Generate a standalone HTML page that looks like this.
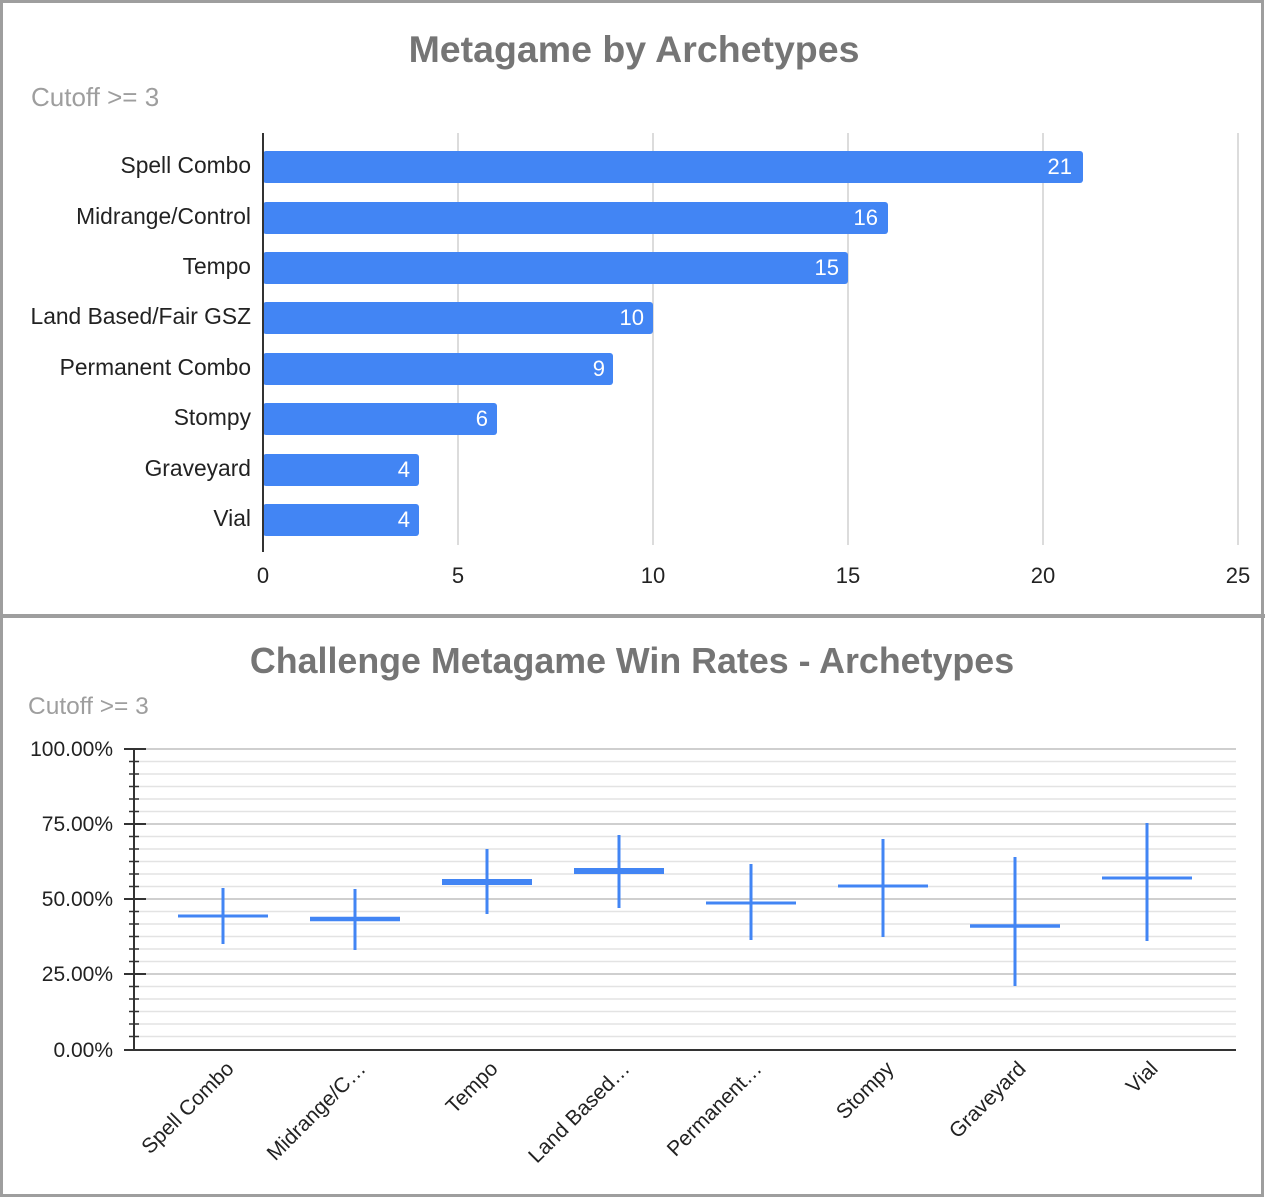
<!DOCTYPE html>
<html><head><meta charset="utf-8"><style>
html,body{margin:0;padding:0;background:#fff}
svg{display:block;font-family:"Liberation Sans",Arial,sans-serif}
</style></head><body>
<svg width="1265" height="1197" viewBox="0 0 1265 1197" xmlns="http://www.w3.org/2000/svg">
<rect x="0" y="0" width="1265" height="1197" fill="#fff"/>
<rect x="1.5" y="1.5" width="1261" height="1194" fill="none" stroke="#9e9e9e" stroke-width="3"/>
<rect x="0" y="614" width="1265" height="4" fill="#9e9e9e"/>

<text x="634" y="62" text-anchor="middle" font-size="37.5" font-weight="bold" fill="#757575">Metagame by Archetypes</text>
<text x="31" y="106" font-size="26" fill="#9e9e9e">Cutoff &gt;= 3</text>
<g stroke="#d0d0d0" stroke-width="1.5">
<line x1="458" y1="133" x2="458" y2="545"/>
<line x1="653" y1="133" x2="653" y2="545"/>
<line x1="848" y1="133" x2="848" y2="545"/>
<line x1="1043" y1="133" x2="1043" y2="545"/>
<line x1="1238" y1="133" x2="1238" y2="545"/>
</g>
<g fill="#4285f4">
<rect x="263" y="151" width="820" height="32" rx="3"/>
<rect x="263" y="202" width="625" height="32" rx="3"/>
<rect x="263" y="252" width="585" height="32" rx="3"/>
<rect x="263" y="302" width="390" height="32" rx="3"/>
<rect x="263" y="353" width="350" height="32" rx="3"/>
<rect x="263" y="403" width="234" height="32" rx="3"/>
<rect x="263" y="454" width="156" height="32" rx="3"/>
<rect x="263" y="504" width="156" height="32" rx="3"/>
</g>
<line x1="263" y1="133" x2="263" y2="552" stroke="#333" stroke-width="2"/>
<g font-size="22" fill="#fff" text-anchor="end">
<text x="1072" y="174">21</text>
<text x="878" y="225">16</text>
<text x="839" y="275">15</text>
<text x="644" y="325">10</text>
<text x="605" y="376">9</text>
<text x="488" y="426">6</text>
<text x="410" y="477">4</text>
<text x="410" y="527">4</text>
</g>
<g font-size="22.8" fill="#222" text-anchor="end">
<text x="251" y="173">Spell Combo</text>
<text x="251" y="224">Midrange/Control</text>
<text x="251" y="274">Tempo</text>
<text x="251" y="324">Land Based/Fair GSZ</text>
<text x="251" y="375">Permanent Combo</text>
<text x="251" y="425">Stompy</text>
<text x="251" y="476">Graveyard</text>
<text x="251" y="526">Vial</text>
</g>
<g font-size="22" fill="#222" text-anchor="middle">
<text x="263" y="583">0</text>
<text x="458" y="583">5</text>
<text x="653" y="583">10</text>
<text x="848" y="583">15</text>
<text x="1043" y="583">20</text>
<text x="1238" y="583">25</text>
</g>

<text x="632" y="673" text-anchor="middle" font-size="35.8" font-weight="bold" fill="#757575">Challenge Metagame Win Rates - Archetypes</text>
<text x="28" y="714" font-size="24.5" fill="#9e9e9e">Cutoff &gt;= 3</text>
<g stroke="#e3e3e3" stroke-width="1.5">
<line x1="134" y1="761.5" x2="1236" y2="761.5"/><line x1="134" y1="774" x2="1236" y2="774"/><line x1="134" y1="786.5" x2="1236" y2="786.5"/><line x1="134" y1="799" x2="1236" y2="799"/><line x1="134" y1="811.5" x2="1236" y2="811.5"/>
<line x1="134" y1="836.5" x2="1236" y2="836.5"/><line x1="134" y1="849" x2="1236" y2="849"/><line x1="134" y1="861.5" x2="1236" y2="861.5"/><line x1="134" y1="874" x2="1236" y2="874"/><line x1="134" y1="886.5" x2="1236" y2="886.5"/>
<line x1="134" y1="911.5" x2="1236" y2="911.5"/><line x1="134" y1="924" x2="1236" y2="924"/><line x1="134" y1="936.5" x2="1236" y2="936.5"/><line x1="134" y1="949" x2="1236" y2="949"/><line x1="134" y1="961.5" x2="1236" y2="961.5"/>
<line x1="134" y1="986.5" x2="1236" y2="986.5"/><line x1="134" y1="999" x2="1236" y2="999"/><line x1="134" y1="1011.5" x2="1236" y2="1011.5"/><line x1="134" y1="1024" x2="1236" y2="1024"/><line x1="134" y1="1036.5" x2="1236" y2="1036.5"/>
</g>
<g stroke="#cfcfcf" stroke-width="2">
<line x1="134" y1="749" x2="1236" y2="749"/><line x1="134" y1="824" x2="1236" y2="824"/><line x1="134" y1="899" x2="1236" y2="899"/><line x1="134" y1="974" x2="1236" y2="974"/>
</g>
<line x1="134" y1="1050" x2="1236" y2="1050" stroke="#333" stroke-width="2"/>
<line x1="134" y1="749" x2="134" y2="1051" stroke="#333" stroke-width="2"/>
<g stroke="#333" stroke-width="2">
<line x1="124" y1="749" x2="146" y2="749"/><line x1="124" y1="824" x2="146" y2="824"/><line x1="124" y1="899" x2="146" y2="899"/><line x1="124" y1="974" x2="146" y2="974"/><line x1="124" y1="1050" x2="146" y2="1050"/>
</g>
<g stroke="#333" stroke-width="1.5">
<line x1="129" y1="761.5" x2="139" y2="761.5"/><line x1="129" y1="774" x2="139" y2="774"/><line x1="129" y1="786.5" x2="139" y2="786.5"/><line x1="129" y1="799" x2="139" y2="799"/><line x1="129" y1="811.5" x2="139" y2="811.5"/>
<line x1="129" y1="836.5" x2="139" y2="836.5"/><line x1="129" y1="849" x2="139" y2="849"/><line x1="129" y1="861.5" x2="139" y2="861.5"/><line x1="129" y1="874" x2="139" y2="874"/><line x1="129" y1="886.5" x2="139" y2="886.5"/>
<line x1="129" y1="911.5" x2="139" y2="911.5"/><line x1="129" y1="924" x2="139" y2="924"/><line x1="129" y1="936.5" x2="139" y2="936.5"/><line x1="129" y1="949" x2="139" y2="949"/><line x1="129" y1="961.5" x2="139" y2="961.5"/>
<line x1="129" y1="986.5" x2="139" y2="986.5"/><line x1="129" y1="999" x2="139" y2="999"/><line x1="129" y1="1011.5" x2="139" y2="1011.5"/><line x1="129" y1="1024" x2="139" y2="1024"/><line x1="129" y1="1036.5" x2="139" y2="1036.5"/>
</g>
<g font-size="21" fill="#222" text-anchor="end">
<text x="113" y="756">100.00%</text>
<text x="113" y="831">75.00%</text>
<text x="113" y="906">50.00%</text>
<text x="113" y="981">25.00%</text>
<text x="113" y="1057">0.00%</text>
</g>
<g stroke="#4285f4" stroke-width="3">
<line x1="178" y1="916" x2="268" y2="916"/><line x1="223" y1="888" x2="223" y2="944"/>
<line x1="310" y1="919" x2="400" y2="919" stroke-width="4.5"/><line x1="355" y1="889" x2="355" y2="950"/>
<line x1="442" y1="882" x2="532" y2="882" stroke-width="6"/><line x1="487" y1="849" x2="487" y2="914"/>
<line x1="574" y1="871" x2="664" y2="871" stroke-width="6"/><line x1="619" y1="835" x2="619" y2="908"/>
<line x1="706" y1="903" x2="796" y2="903"/><line x1="751" y1="864" x2="751" y2="940"/>
<line x1="838" y1="886" x2="928" y2="886"/><line x1="883" y1="839" x2="883" y2="937"/>
<line x1="970" y1="926" x2="1060" y2="926" stroke-width="3.5"/><line x1="1015" y1="857" x2="1015" y2="986"/>
<line x1="1102" y1="878" x2="1192" y2="878"/><line x1="1147" y1="823" x2="1147" y2="941"/>
</g>
<g font-size="21" fill="#222" text-anchor="end">
<text transform="translate(235,1070) rotate(-45)">Spell Combo</text>
<text transform="translate(367,1070) rotate(-45)">Midrange/C…</text>
<text transform="translate(499,1070) rotate(-45)">Tempo</text>
<text transform="translate(631,1070) rotate(-45)">Land Based…</text>
<text transform="translate(763,1070) rotate(-45)">Permanent…</text>
<text transform="translate(895,1070) rotate(-45)">Stompy</text>
<text transform="translate(1027,1070) rotate(-45)">Graveyard</text>
<text transform="translate(1159,1070) rotate(-45)">Vial</text>
</g>
</svg>
</body></html>
